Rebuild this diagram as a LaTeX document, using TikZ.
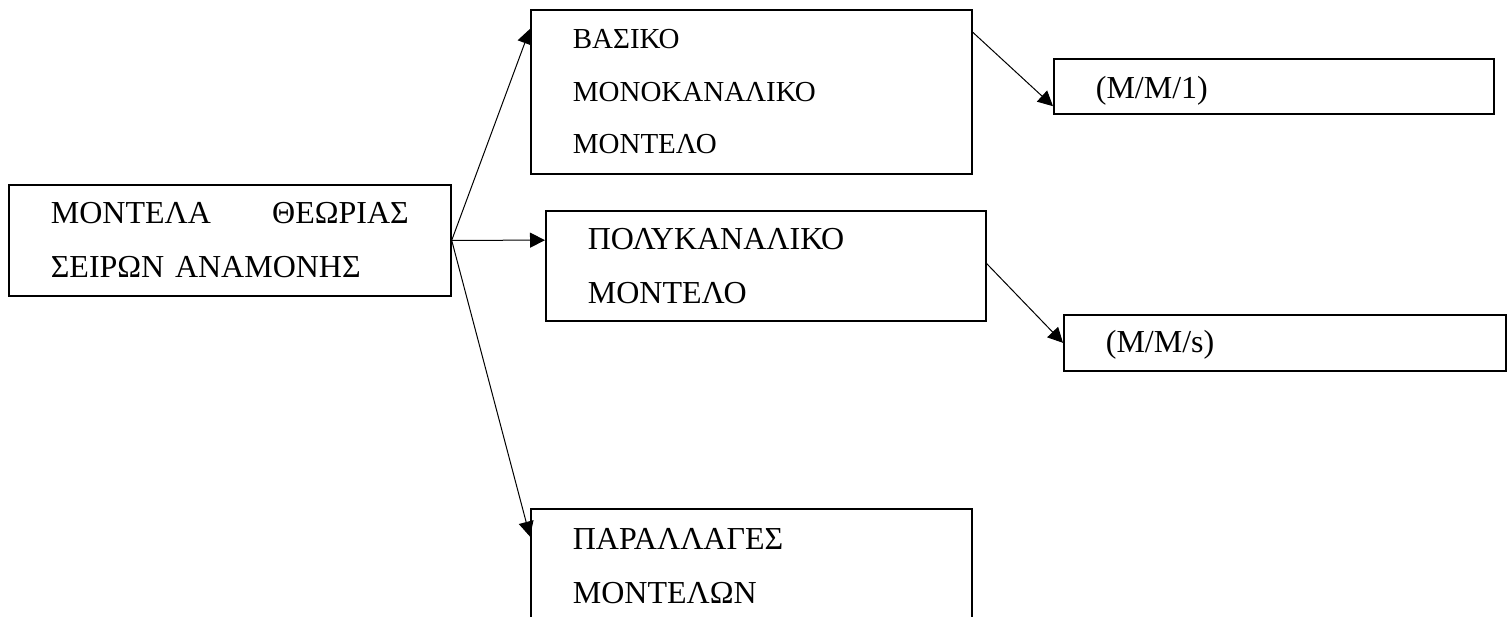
\documentclass[tikz,border=0pt]{standalone}
\usepackage{fontspec}
\setmainfont{Liberation Serif}
\usetikzlibrary{calc,arrows.meta,positioning}
\tikzset{
    model/.style={
    rectangle,draw=black,line width=0.85pt,anchor=north west,inner xsep=21pt,inner ysep=0pt,align=left,font=\fontsize{16}{27}\selectfont
    },
    smallmodel/.style={
    model,font=\fontsize{14.5}{26.25}\selectfont
    },
    link/.style={
    line width=0.5pt,-{Triangle[length=7.5pt,width=7.5pt]}
    },
}
\begin{document}
\begin{tikzpicture}[x=0.5pt,y=-0.5pt]
   \useasboundingbox (0,0) rectangle (1510,616);
   \clip (0,0) rectangle (1510,616);
   %theory
   \node[model,text width=179pt,minimum height=55.5pt] (theory) at (8,184) {ΜΟΝΤΕΛΑ\hfill ΘΕΩΡΙΑΣ\hspace*{-3.5pt}\\ΣΕΙΡΩΝ ΑΝΑΜΟΝΗΣ};
   %basic
   \node[smallmodel,text width=178.5pt,minimum height=82pt] (basic) at (530,9) {ΒΑΣΙΚΟ\\ΜΟΝΟΚΑΝΑΛΙΚΟ\\ΜΟΝΤΕΛΟ};
   %mm1
   \node[model,text width=178pt,minimum height=27.5pt,text height=16pt,text depth=3.5pt] (mm1) at (1053,58) {(M/M/1)};
   %poly
   \node[model,text width=178pt,minimum height=55pt] (poly) at (545,210) {ΠΟΛΥΚΑΝΑΛΙΚΟ\\ΜΟΝΤΕΛΟ};
   %mms
   \node[model,text width=179pt,minimum height=28pt,text height=13pt,text depth=3.5pt] (mms) at (1063,314) {(M/M/s)};
   %variants
   \node[model,text width=178.5pt,minimum height=57.5pt] (variants) at (530,508) {ΠΑΡΑΛΛΑΓΕΣ\\ΜΟΝΤΕΛΩΝ};

   \path[link]
   %theory
    (theory.east) edge ($(basic.north west)!0.12!(basic.south west)$)
    (theory.east) edge ($(poly.north west)!0.27!(poly.south west)$)
    (theory.east) edge ($(variants.north west)!0.245!(variants.south west)$)
   %basic
    ($(basic.north east)!0.14!(basic.south east)$) edge ($(mm1.north west)!0.85!(mm1.south west)$)
   %poly
    ($(poly.north east)!0.48!(poly.south east)$) edge (mms.west)
   ;
\end{tikzpicture}
\end{document}
